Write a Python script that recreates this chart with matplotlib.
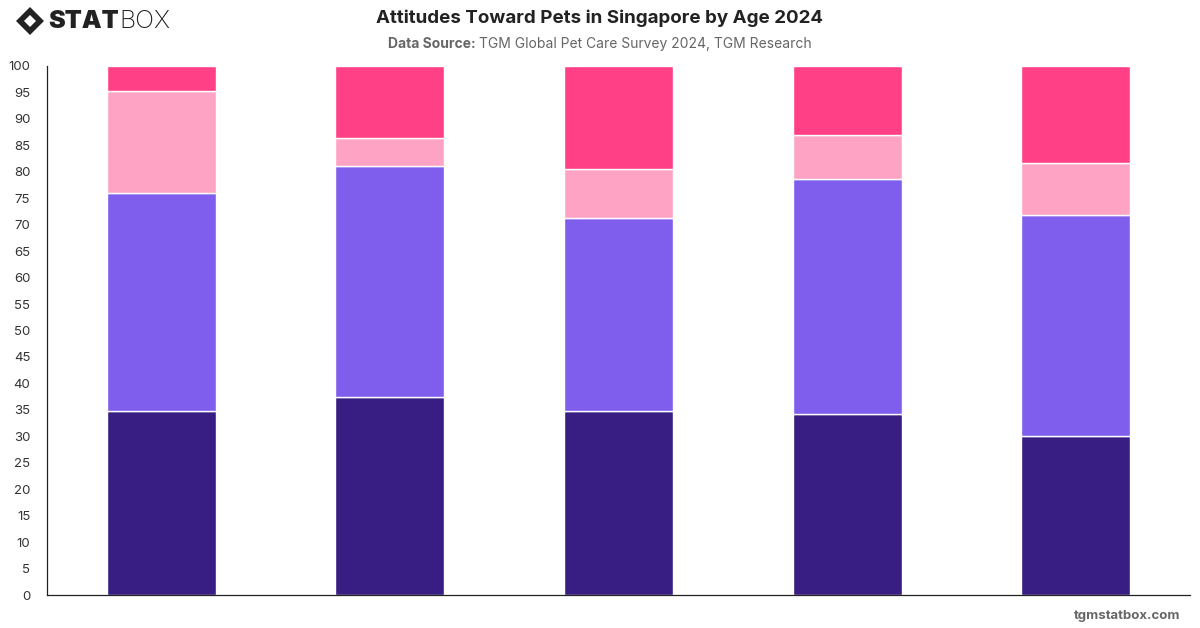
import matplotlib
matplotlib.use("Agg")
import matplotlib.pyplot as plt
from matplotlib.patches import Polygon
import numpy as np

plt.rcParams['font.family'] = ['Inter', 'DejaVu Sans']

categories = ["18-24", "25-34", "35-44", "45-54", "55+"]
s1 = [34.8, 37.4, 34.8, 34.3, 30.0]
s2 = [41.2, 43.7, 36.4, 44.3, 41.8]
s3 = [19.3, 5.3, 9.3, 8.3, 9.8]
s4 = [4.7, 13.6, 19.5, 13.1, 18.4]
colors = ["#381d83", "#7f5eee", "#ffa3c4", "#ff4086"]
yticks = list(range(0, 101, 5))

fig = plt.figure(figsize=(12, 6.28), dpi=100)
ax = fig.add_axes([47/1200, 33/628, (1190-47)/1200, (595-66)/628])

x = np.arange(len(categories))
bottom = np.zeros(len(categories))
for vals, c in zip([s1, s2, s3, s4], colors):
    ax.bar(x, vals, width=0.477, bottom=bottom, color=c, edgecolor="white", linewidth=1.0)
    bottom += np.array(vals)

ax.set_xlim(-0.5, 4.5)
ax.set_ylim(0, 100)
ax.set_yticks(yticks)
ax.set_yticklabels([str(t) for t in yticks], fontsize=9.5, color="#333333")
ax.set_xticks(x)
ax.set_xticklabels(categories, color="white", fontsize=9)
ax.tick_params(axis='both', length=0)
ax.tick_params(axis='y', pad=12)
for s in ["top", "right"]:
    ax.spines[s].set_visible(False)
ax.spines["left"].set_color("#222222")
ax.spines["bottom"].set_color("#222222")
ax.spines["left"].set_linewidth(0.9)
ax.spines["bottom"].set_linewidth(0.9)

fig.text(0.5, 1 - 18/628, "Attitudes Toward Pets in Singapore by Age 2024",
         ha="center", va="center", fontsize=13.5, fontweight="bold", color="#222222")

# subtitle: bold label + regular text, centered together
renderer = fig.canvas.get_renderer()
sy = 1 - 44/628
a = fig.text(0, sy, "Data Source: ", ha="left", va="center",
             fontsize=10, fontweight="bold", color="#666666")
b = fig.text(0, sy, "TGM Global Pet Care Survey 2024, TGM Research",
             ha="left", va="center", fontsize=10, color="#666666")
wa = a.get_window_extent(renderer).width
wb = b.get_window_extent(renderer).width
start = (1200 - (wa + wb)) / 2
a.set_x(start / 1200)
b.set_x((start + wa) / 1200)

# logo
cx, cy = 30/1200, 1 - 21/628
dx, dy = 14/1200, 14/628
fig.patches.append(Polygon([[cx-dx, cy], [cx, cy+dy], [cx+dx, cy], [cx, cy-dy]],
                           closed=True, transform=fig.transFigure, facecolor="#222222"))
ddx, ddy = 6/1200, 6/628
fig.patches.append(Polygon([[cx-ddx, cy], [cx, cy+ddy], [cx+ddx, cy], [cx, cy-ddy]],
                           closed=True, transform=fig.transFigure, facecolor="white"))
st = fig.text(48/1200, cy, "STAT", ha="left", va="center", fontsize=18, fontweight="black",
              color="#222222")
wst = st.get_window_extent(renderer).width
fig.text((48 + wst + 1)/1200, cy, "BOX", ha="left", va="center", fontsize=18,
         fontweight="light", color="#222222")

fig.text(1180/1200, 1 - 616/628, "tgmstatbox.com", ha="right", va="center",
         fontsize=9.5, fontweight="bold", color="#666666")

fig.savefig("out.png", dpi=100, facecolor="white")
